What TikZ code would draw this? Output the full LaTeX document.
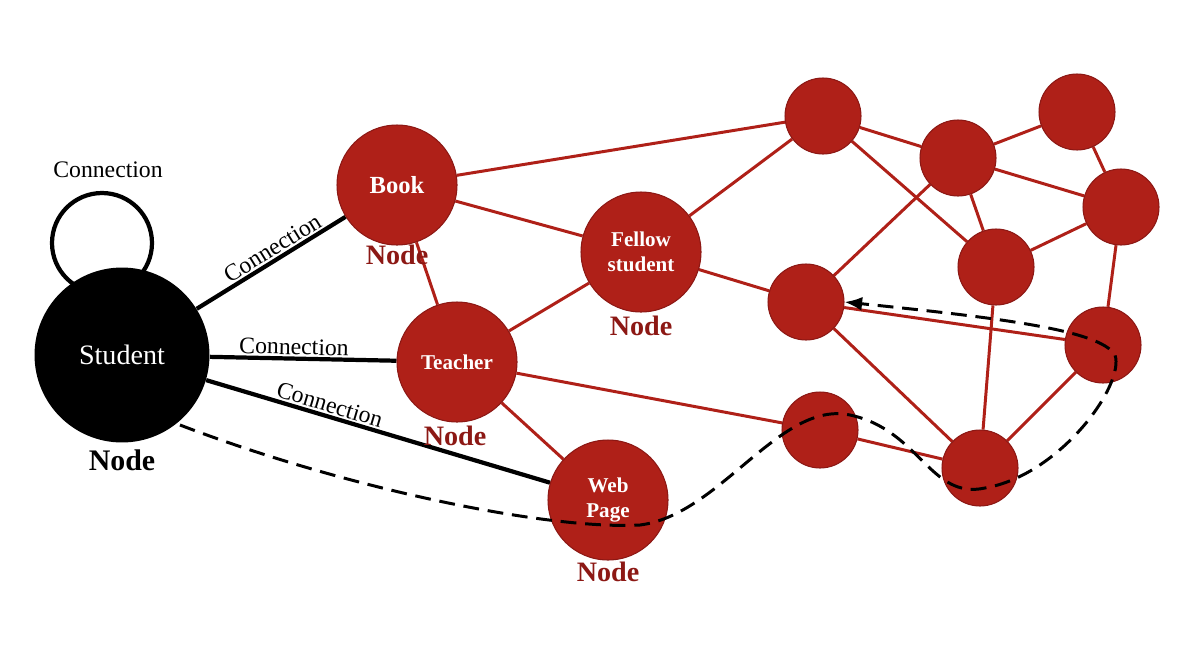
\documentclass[tikz,border=0pt]{standalone}
\usepackage{fontspec}
\setmainfont{Liberation Serif}
\usetikzlibrary{backgrounds,arrows.meta}
\definecolor{nred}{RGB}{175,32,24}
\definecolor{ltxt}{RGB}{140,24,20}
\begin{document}
\begin{tikzpicture}[x=0.02cm,y=-0.02cm,
  big/.style={circle,fill=nred,draw=ltxt,line width=0.6pt,minimum size=2.4cm,inner sep=0pt,text=white,font=\fontsize{12}{14}\selectfont\bfseries,align=center},
  sm/.style={circle,fill=nred,draw=ltxt,line width=0.6pt,minimum size=1.52cm,inner sep=0pt},
  re/.style={draw=nred,line width=1.7pt},
  bl/.style={draw=black,line width=2.4pt},
  nl/.style={font=\fontsize{16}{18}\selectfont\bfseries,text=ltxt},
  cl/.style={font=\fontsize{13.5}{15}\selectfont,inner sep=1pt}]
\useasboundingbox (0,0) rectangle (1200,660);
\node[circle,draw=black,line width=2.4pt,minimum size=2cm,inner sep=0pt] (loop) at (102,243) {};
\node[circle,fill=black,minimum size=3.5cm,inner sep=0pt,text=white,font=\fontsize{16}{18}\selectfont] (st) at (122,355) {Student};
\node[big] (book) at (397,185) {\fontsize{14}{16}\selectfont Book};
\node[big] (fel) at (641,252) {Fellow\\student};
\node[big] (tea) at (457,362) {Teacher};
\node[big] (web) at (608,500) {Web\\Page};
\node[sm] (A) at (823,116) {};
\node[sm] (B) at (958,158) {};
\node[sm] (C) at (1077,112) {};
\node[sm] (D) at (1121,207) {};
\node[sm] (E) at (806,302) {};
\node[sm] (F) at (996,267) {};
\node[sm] (G) at (1103,345) {};
\node[sm] (H) at (820,430) {};
\node[sm] (I) at (980,468) {};
\node[font=\fontsize{17}{19}\selectfont\bfseries] (nst) at (122,460) {Node};
\node[nl] (nb) at (397,255) {Node};
\node[nl] (nf) at (641,326) {Node};
\node[nl] (nt) at (455,436) {Node};
\node[nl] (nw) at (608,572) {Node};
\node[cl] (cl0) at (108,170) {Connection};
\begin{scope}[on background layer]
\foreach \a/\b in {book/A,book/fel,book/tea,fel/tea,fel/A,fel/E,tea/web,tea/H,A/B,A/F,B/C,B/D,B/F,B/E,C/D,D/F,D/G,G/E,E/I,H/I,F/I,G/I}
  \draw[re] (\a) -- (\b);
\draw[bl] (st) -- node[cl,sloped,above,pos=0.55] {Connection} (book);
\draw[bl] (st) -- node[cl,sloped,above,pos=0.45] {Connection} (tea);
\draw[bl] (st) -- node[cl,sloped,above,pos=0.35] {Connection} (web);
\end{scope}
\coordinate (d0) at (180,425);
\coordinate (d1) at (640,525);
\coordinate (d2) at (850,415);
\coordinate (d3) at (985,488);
\coordinate (d4) at (1115,355);
\draw[dashed,line width=1.7pt,dash pattern=on 9pt off 5pt,-{Latex[length=10pt,width=8pt]}]
  (d0) .. controls (350,490) and (550,530) .. (d1)
  .. controls (720,515) and (780,400) .. (d2)
  .. controls (920,430) and (930,500) .. (d3)
  .. controls (1060,475) and (1125,385) .. (d4)
  .. controls (1100,330) and (1000,318) .. (E.east);
\end{tikzpicture}
\end{document}
